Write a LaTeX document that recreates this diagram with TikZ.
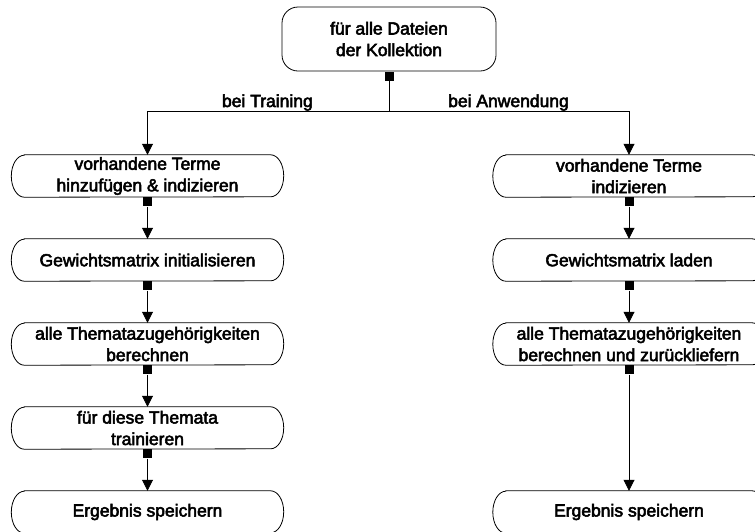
\documentclass[tikz,border=0pt]{standalone}
\usepackage{fontspec}
\newfontfamily\diagfont{Liberation Sans}[BoldFont={Liberation Sans}, BoldFeatures={FakeBold=3}]
\usetikzlibrary{arrows.meta,calc}

\tikzset{
  txt/.style={font=\diagfont\bfseries\fontsize{17.5}{21.5}\selectfont, align=center, inner sep=0pt},
  stage/.style={txt, minimum width=272pt, minimum height=42pt},
  startbox/.style={txt, draw, line width=0.8pt, rounded corners=16pt,
                   minimum width=214pt, minimum height=64pt},
  boxline/.style={line width=0.8pt},
  sq/.style={fill=black, minimum size=9pt, inner sep=0pt, anchor=north},
  flow/.style={line width=0.8pt, -{Triangle[length=11pt,width=11pt]}},
  lbl/.style={font=\diagfont\bfseries\fontsize{17.5}{21.5}\selectfont, inner sep=0pt},
}

% outline with elliptic ends around a stage node
\newcommand\stadiumoutline[1]{%
  \draw[boxline] ($(#1.north west)+(13pt,0)$) -- ($(#1.north east)+(-13pt,0)$)
    arc[start angle=90, end angle=-90, x radius=13pt, y radius=21pt]
    -- ($(#1.south west)+(13pt,0)$)
    arc[start angle=270, end angle=90, x radius=13pt, y radius=21pt] -- cycle;}

\begin{document}
\begin{tikzpicture}[x=1pt, y=-1pt]
  \useasboundingbox (0,0) rectangle (755,531);
  \clip (0,0) rectangle (755,531);

  % start node
  \node[startbox] (top) at (389,39) {für alle Dateien\\der Kollektion};
  \node[sq] (top-m) at (top.south) {};
  \coordinate (fork) at (389,111);

  % training branch
  \node[stage] (L1) at (147.5,176) {vorhandene Terme\\hinzufügen \& indizieren};
  \node[stage] (L2) at (147.5,260) {Gewichtsmatrix initialisieren};
  \node[stage] (L3) at (147.5,344) {alle Thematazugehörigkeiten\\berechnen};
  \node[stage] (L4) at (147.5,428) {für diese Themata\\trainieren};
  \node[stage] (L5) at (147.5,512) {Ergebnis speichern};

  % application branch
  \node[stage] (R1) at (629,176) {vorhandene Terme\\indizieren};
  \node[stage] (R2) at (629,260) {Gewichtsmatrix laden};
  \node[stage] (R3) at (629,344) {alle Thematazugehörigkeiten\\berechnen und zurückliefern};
  \node[stage] (R5) at (629,512) {Ergebnis speichern};

  \foreach \n in {L1,L2,L3,L4,L5,R1,R2,R3,R5} {\stadiumoutline{\n}}

  % output markers
  \foreach \n in {L1,L2,L3,L4,R1,R2,R3} {\node[sq] (\n-m) at (\n.south) {};}

  % branch labels
  \node[lbl, anchor=base east] (lt) at (313,107) {bei Training};
  \node[lbl, anchor=base west] (la) at (448,107) {bei Anwendung};

  % connectors
  \draw[flow] (top-m.south) -- (fork) -| (L1.north);
  \draw[flow] (fork) -| (R1.north);

  \draw[flow] (L1-m.south) -- (L2.north);
  \draw[flow] (L2-m.south) -- (L3.north);
  \draw[flow] (L3-m.south) -- (L4.north);
  \draw[flow] (L4-m.south) -- (L5.north);

  \draw[flow] (R1-m.south) -- (R2.north);
  \draw[flow] (R2-m.south) -- (R3.north);
  \draw[flow] (R3-m.south) -- (R5.north);
\end{tikzpicture}
\end{document}
